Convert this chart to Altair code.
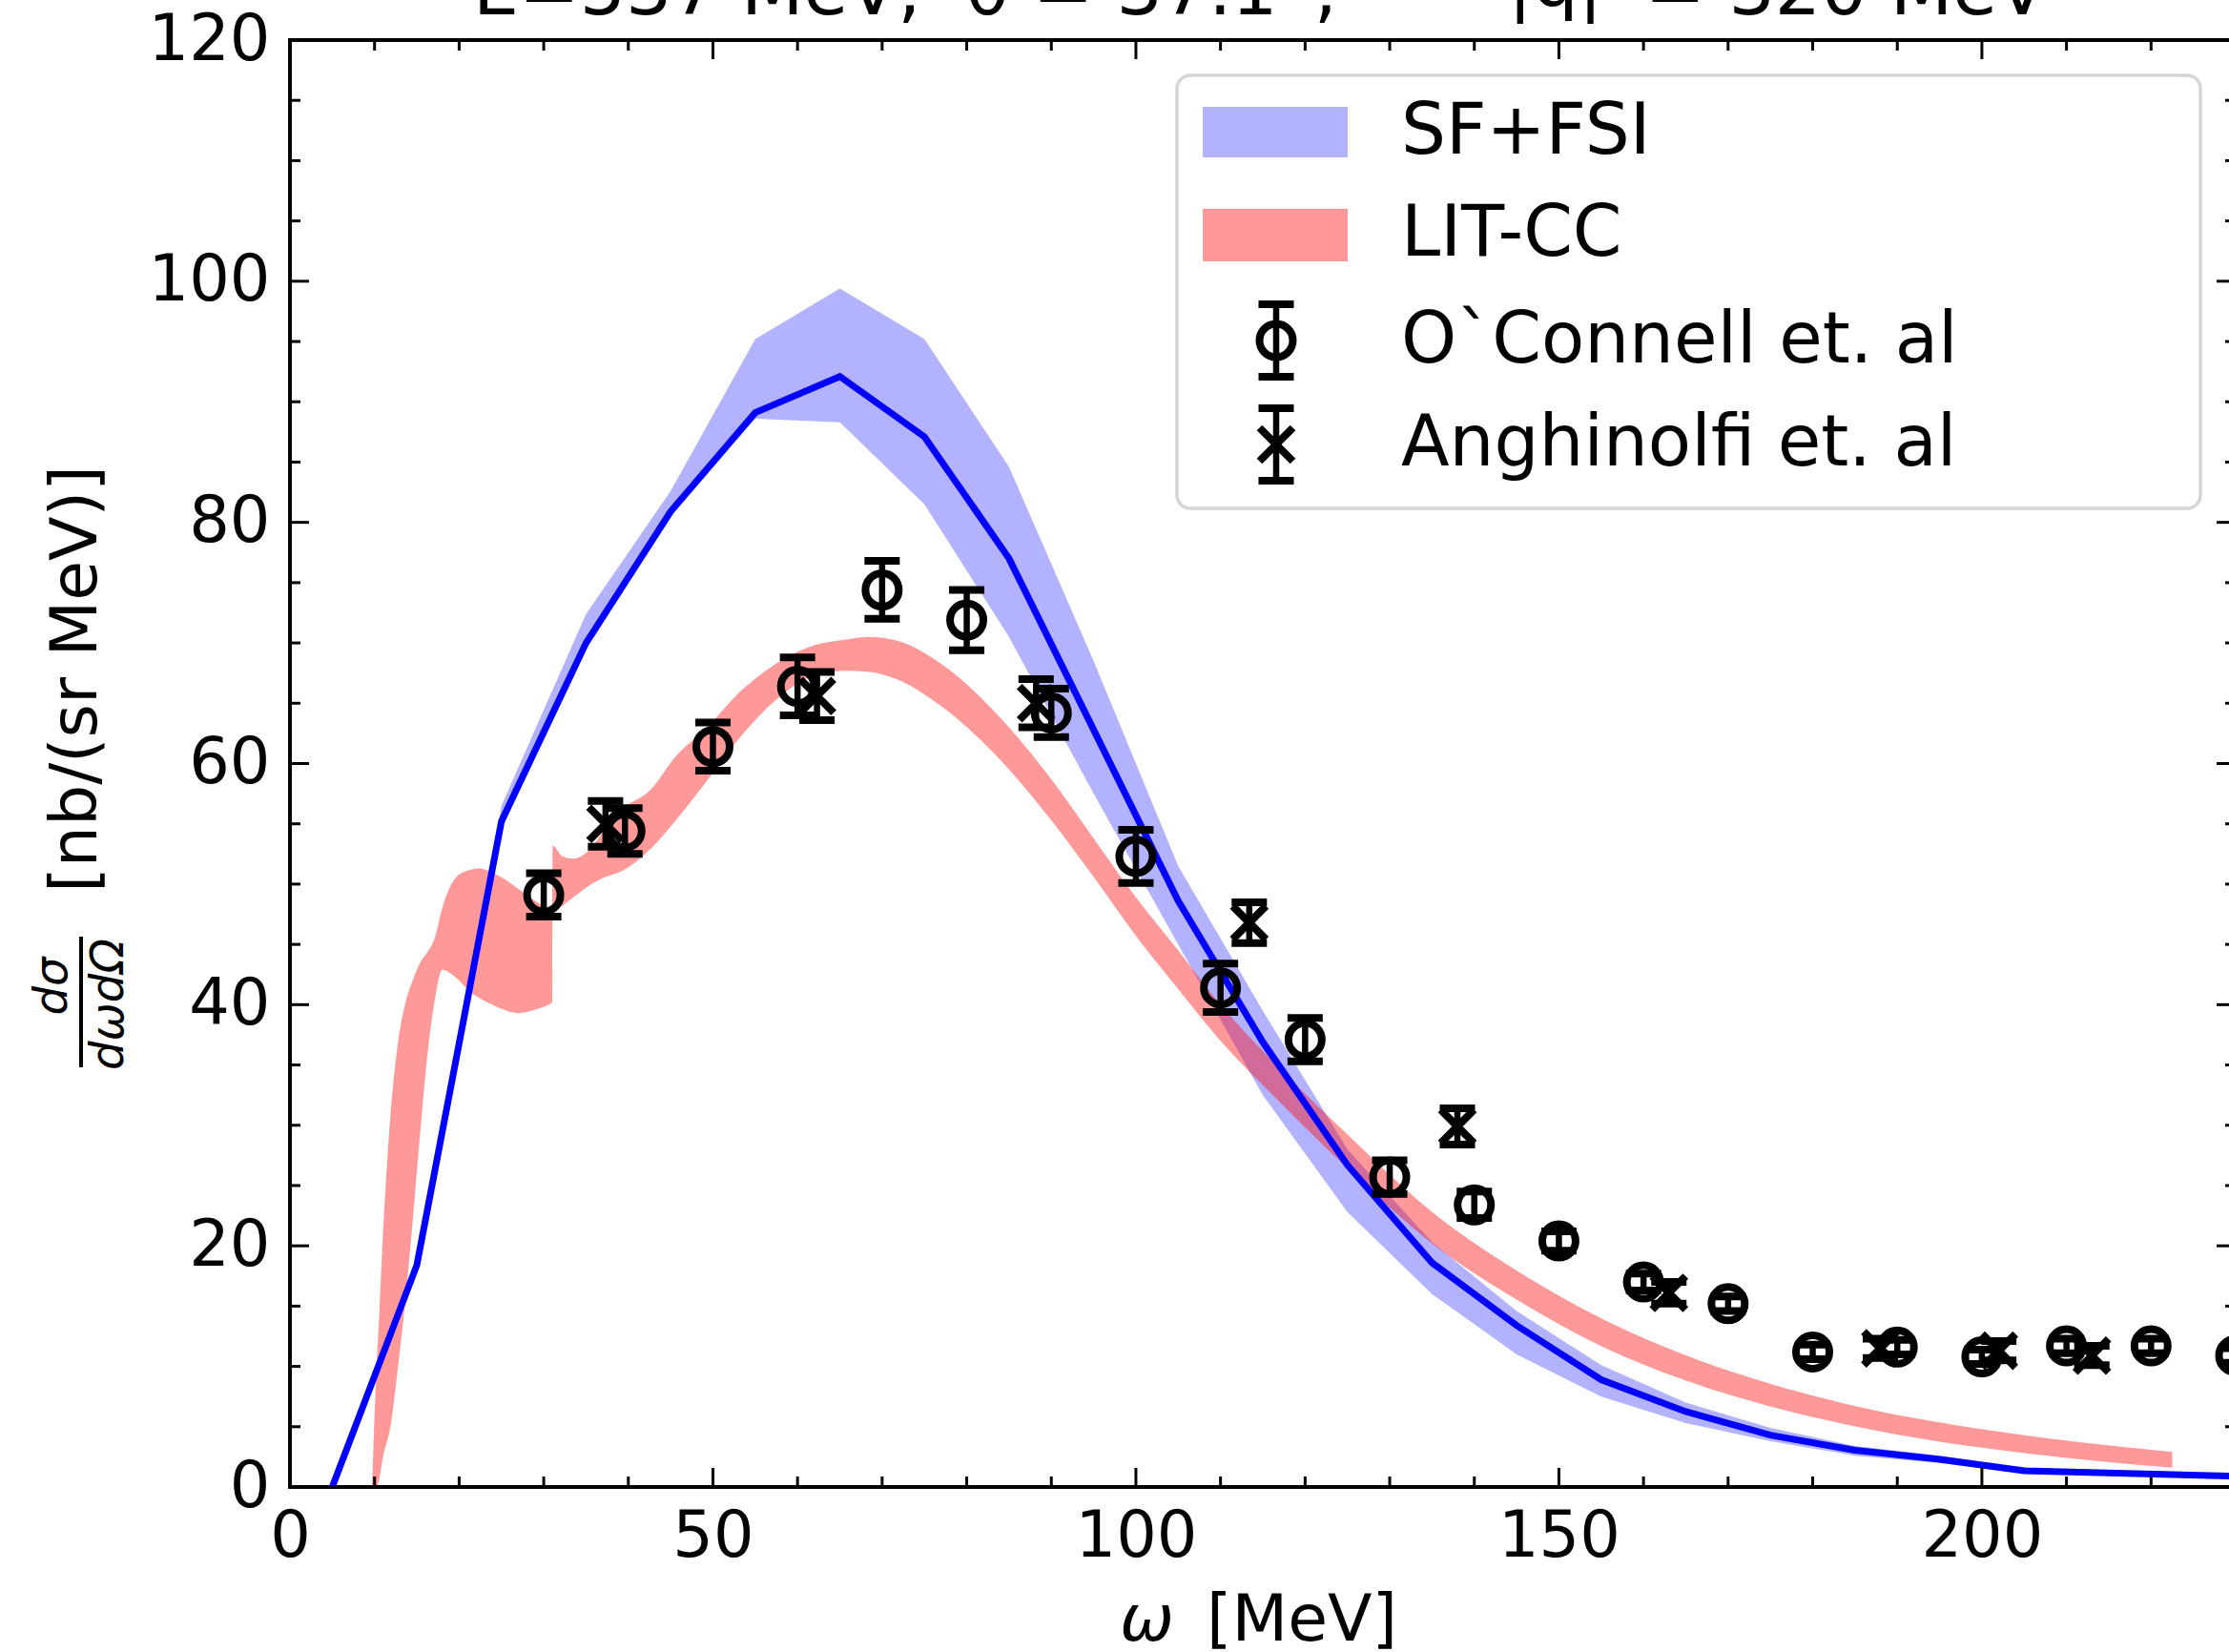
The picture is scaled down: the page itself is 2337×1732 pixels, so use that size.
import altair as alt
import pandas as pd

# ---------------- data ----------------
# SF+FSI : central line and band (omega in MeV)
sf_omega = [5, 15, 25, 35, 45, 55, 65, 75, 85, 95, 105, 115, 125, 135, 145, 155, 165, 175, 185, 195, 205, 230]
sf_line = [0, 18.4, 55.2, 70.0, 80.9, 89.1, 92.1, 87.1, 77.0, 62.8, 48.6, 36.9, 26.7, 18.6, 13.4, 8.9, 6.25, 4.3, 3.05, 2.3, 1.35, 0.9]
sf_lower = [0, 18.4, 55.0, 69.5, 80.5, 88.6, 88.3, 81.5, 70.5, 57.5, 45.0, 32.5, 22.8, 16.0, 11.0, 7.5, 5.3, 3.8, 2.6, 2.0, 1.1, 0.8]
sf_upper = [0, 18.4, 56.5, 72.4, 82.6, 95.2, 99.4, 95.2, 84.6, 68.5, 51.5, 39.5, 28.0, 20.3, 14.6, 10.1, 7.0, 4.9, 3.4, 2.6, 1.6, 1.0]

# LIT-CC band
lit_omega = [9.7, 10.2, 10.5, 11.0, 11.9, 12.7, 13.6, 14.5, 15.4, 16.2, 17.1, 18.0, 19.7, 21.4, 22.3, 24.9,
             27.0, 29.0, 31.0, 31.05, 32.2, 33.5, 35.2, 37.0, 39.3, 42.6, 45.5, 49.0, 53.6, 58.7, 62.0, 65.9,
             68.5, 71.7, 76.9, 83.3, 90.0, 95.0, 100.0, 105.0, 110.0, 116.9, 124.6, 135.2, 145.8, 155.4,
             164.9, 174.6, 184.2, 193.8, 203.4, 213.0, 222.5]
lit_lower = [0, 0, 0.5, 2.5, 5.1, 9.5, 15.2, 22.0, 29.4, 35.5, 40.3, 42.9, 42.2, 41.0, 40.6, 39.7,
             39.3, 39.6, 40.2, 47.7, 48.2, 48.9, 49.8, 50.5, 51.1, 52.9, 55.2, 58.3, 62.5, 66.0, 67.3, 67.7,
             67.6, 67.0, 64.8, 60.8, 55.3, 50.6, 45.7, 41.3, 37.0, 32.0, 26.7, 20.1, 15.2, 11.55,
             8.85, 6.75, 5.15, 3.9, 2.95, 2.2, 1.6]
lit_upper = [0, 9.2, 13.5, 21.0, 31.0, 36.5, 40.0, 42.0, 43.5, 44.3, 45.5, 48.0, 50.6, 51.2, 51.3, 50.6,
             49.6, 48.6, 47.9, 53.2, 52.3, 52.1, 52.7, 54.3, 56.2, 57.8, 60.5, 62.8, 66.2, 68.8, 69.8, 70.3,
             70.5, 70.2, 68.3, 64.3, 58.7, 53.8, 48.9, 44.5, 40.0, 34.8, 29.5, 22.7, 17.6, 13.85,
             10.95, 8.65, 6.85, 5.5, 4.45, 3.6, 2.9]

# O`Connell et al. data
oc_omega = [30, 39.6, 50, 60, 70, 80, 90, 100, 110, 120, 130, 140, 150, 160, 170, 180, 190, 200, 210, 220, 230]
oc_val = [49.1, 54.4, 61.4, 66.4, 74.4, 71.9, 64.2, 52.3, 41.4, 37.1, 25.7, 23.4, 20.4, 17.0, 15.2, 11.2, 11.6, 10.8, 11.7, 11.7, 10.9]
oc_err = [1.8, 1.9, 2.0, 2.4, 2.4, 2.5, 2.0, 2.2, 2.0, 1.8, 1.4, 1.1, 0.8, 0.7, 0.6, 0.6, 0.6, 0.6, 0.6, 0.6, 0.6]

# Anghinolfi et al. data
an_omega = [37.3, 62.3, 88.2, 113.4, 138.0, 163.0, 188.0, 202.0, 213.0]
an_val = [55.0, 65.6, 65.0, 46.8, 29.9, 16.1, 11.5, 11.3, 10.9]
an_err = [1.9, 2.0, 2.0, 1.7, 1.5, 0.9, 0.8, 0.8, 0.8]

# axis ticks
x_major = [0, 50, 100, 150, 200]
x_minor = [10, 20, 30, 40, 60, 70, 80, 90, 110, 120, 130, 140, 160, 170, 180, 190, 210, 220]
y_major = [0, 20, 40, 60, 80, 100, 120]
y_minor = [5, 10, 15, 25, 30, 35, 45, 50, 55, 65, 70, 75, 85, 90, 95, 105, 110, 115]

title_parts = ["E=537 MeV,", "θ = 37.1°,", "|q|", "= 320 MeV"]
legend_labels = ["SF+FSI", "LIT-CC", "O`Connell et. al", "Anghinolfi et. al"]

# ---------------- styling ----------------
FONT = "DejaVu Sans"
FS_TICK = 67
FS_LAB = 68
FS_LEG = 74
FS_TITLE = 76
W, H = 2033, 1517
XR = 2040  # pixel extent of the x range (axes run slightly past the page edge)
BLUE = "#0000ff"
RED = "#ff0000"
X_PATH = "M -1 -1 L 1 1 M -1 1 L 1 -1"
MS = 1225      # marker size
MEW = 8        # marker stroke
ELW = 6.5      # errorbar line
CAP_L, CAP_T = 37, 8

xs = alt.Scale(domain=[0, 230], range=[0, XR], nice=False, zero=False)
ys = alt.Scale(domain=[0, 120], nice=False, zero=False)
X_AX = alt.Axis(values=x_major, title=None, ticks=False, tickSize=0, domain=False, grid=False,
                labelFont=FONT, labelFontSize=FS_TICK, labelColor="black", labelPadding=19,
                labelFlush=False, labelOverlap=False, format="d")
Y_AX = alt.Axis(values=y_major, title=None, ticks=False, tickSize=0, domain=False, grid=False,
                labelFont=FONT, labelFontSize=FS_TICK, labelColor="black", labelPadding=21,
                labelOverlap=False, format="d")


def X(f):
    return alt.X(f, type="quantitative", scale=xs, axis=X_AX)


def Y(f):
    return alt.Y(f, type="quantitative", scale=ys, axis=Y_AX)


sf_df = pd.DataFrame({"omega": sf_omega, "line": sf_line, "lo": sf_lower, "hi": sf_upper})
lit_df = pd.DataFrame({"omega": lit_omega, "lo": lit_lower, "hi": lit_upper})
oc_df = pd.DataFrame({"omega": oc_omega, "val": oc_val, "err": oc_err})
an_df = pd.DataFrame({"omega": an_omega, "val": an_val, "err": an_err})
for d in (oc_df, an_df):
    d["lo"] = d["val"] - d["err"]
    d["hi"] = d["val"] + d["err"]
err_df = pd.concat([oc_df, an_df], ignore_index=True)
one = pd.DataFrame({"k": [0]})

layers = []

# bands and line
layers.append(alt.Chart(sf_df).mark_area(color=BLUE, opacity=0.3).encode(x=X("omega"), y=Y("lo"), y2="hi"))
layers.append(alt.Chart(lit_df).mark_area(color=RED, opacity=0.4, interpolate="monotone")
              .encode(x=X("omega"), y=Y("lo"), y2="hi"))
layers.append(alt.Chart(sf_df).mark_line(color=BLUE, strokeWidth=7).encode(x=X("omega"), y=Y("line")))

# error bars
layers.append(alt.Chart(err_df).mark_rule(color="black", strokeWidth=ELW).encode(x=X("omega"), y=Y("lo"), y2="hi"))
for f in ("lo", "hi"):
    layers.append(alt.Chart(err_df).mark_tick(color="black", orient="horizontal", size=CAP_L, thickness=CAP_T,
                                              opacity=1).encode(x=X("omega"), y=Y(f)))
layers.append(alt.Chart(oc_df).mark_point(shape="circle", filled=False, size=MS, strokeWidth=MEW,
                                          color="black", opacity=1).encode(x=X("omega"), y=Y("val")))
layers.append(alt.Chart(an_df).mark_point(shape=X_PATH, filled=False, size=MS, strokeWidth=MEW,
                                          color="black", opacity=1).encode(x=X("omega"), y=Y("val")))

# inward ticks on all four sides
for vals, ln in ((x_major, 20), (x_minor, 11)):
    d = pd.DataFrame({"v": vals})
    layers.append(alt.Chart(d).mark_rule(color="black", strokeWidth=3).encode(
        x=X("v"), y=alt.value(H), y2=alt.value(H - ln)))
    layers.append(alt.Chart(d).mark_rule(color="black", strokeWidth=3).encode(
        x=X("v"), y=alt.value(0), y2=alt.value(ln)))
for vals, ln in ((y_major, 20), (y_minor, 11)):
    d = pd.DataFrame({"v": vals})
    layers.append(alt.Chart(d).mark_rule(color="black", strokeWidth=3).encode(
        y=Y("v"), x=alt.value(0), x2=alt.value(ln)))
    layers.append(alt.Chart(d).mark_rule(color="black", strokeWidth=3).encode(
        y=Y("v"), x=alt.value(XR - ln), x2=alt.value(XR)))

# spines
spine = dict(color="black", strokeWidth=4, strokeCap="square")
layers.append(alt.Chart(one).mark_rule(**spine).encode(x=alt.value(0), y=alt.value(0), y2=alt.value(H)))
layers.append(alt.Chart(one).mark_rule(**spine).encode(x=alt.value(XR), y=alt.value(0), y2=alt.value(H)))
layers.append(alt.Chart(one).mark_rule(**spine).encode(x=alt.value(0), x2=alt.value(XR), y=alt.value(0)))
layers.append(alt.Chart(one).mark_rule(**spine).encode(x=alt.value(0), x2=alt.value(XR), y=alt.value(H)))

# title (only its lower part is inside the page)
for txt, xx, al, yy in ((title_parts[0], 192, "left", -27), (title_parts[1], 708, "left", -27),
                        (title_parts[2], 1277, "left", -36), (title_parts[3], 1842, "right", -27)):
    layers.append(alt.Chart(one).mark_text(font=FONT, fontSize=FS_TITLE, align=al, baseline="alphabetic",
                                           color="black")
                  .encode(x=alt.value(xx), y=alt.value(yy), text=alt.value(txt)))

# x axis title
layers.append(alt.Chart(one).mark_text(font=FONT, fontSize=FS_LAB, fontStyle="italic", align="left",
                                       baseline="alphabetic", color="black")
              .encode(x=alt.value(870), y=alt.value(1678), text=alt.value("ω")))
layers.append(alt.Chart(one).mark_text(font=FONT, fontSize=FS_LAB, align="left", baseline="alphabetic", color="black")
              .encode(x=alt.value(961), y=alt.value(1678), text=alt.value("[MeV]")))

# y axis title
layers.append(alt.Chart(one).mark_text(font=FONT, fontSize=FS_LAB, angle=270, align="center",
                                       baseline="alphabetic", color="black")
              .encode(x=alt.value(-203), y=alt.value(670), text=alt.value("[nb/(sr MeV)]")))
layers.append(alt.Chart(one).mark_text(font=FONT, fontSize=48, fontStyle="italic", angle=270, align="center",
                                       baseline="alphabetic", color="black")
              .encode(x=alt.value(-234), y=alt.value(992), text=alt.value("dσ")))
layers.append(alt.Chart(one).mark_text(font=FONT, fontSize=48, fontStyle="italic", angle=270, align="center",
                                       baseline="alphabetic", color="black")
              .encode(x=alt.value(-175), y=alt.value(1011), text=alt.value("dωdΩ")))
layers.append(alt.Chart(one).mark_rule(color="black", strokeWidth=4)
              .encode(x=alt.value(-219), y=alt.value(940), y2=alt.value(1077)))

# legend
layers.append(alt.Chart(one).mark_rect(fill="white", fillOpacity=0.8, stroke="#d6d6d6", strokeWidth=3.5,
                                       cornerRadius=14)
              .encode(x=alt.value(930), x2=alt.value(2003), y=alt.value(37), y2=alt.value(491)))
layers.append(alt.Chart(one).mark_rect(color=BLUE, opacity=0.3)
              .encode(x=alt.value(957), x2=alt.value(1109), y=alt.value(70), y2=alt.value(123)))
layers.append(alt.Chart(one).mark_rect(color=RED, opacity=0.4)
              .encode(x=alt.value(957), x2=alt.value(1109), y=alt.value(177), y2=alt.value(232)))
for lab, yy in zip(legend_labels, (97, 204, 316, 424)):
    layers.append(alt.Chart(one).mark_text(font=FONT, fontSize=FS_LEG, align="left", baseline="middle",
                                           color="black")
                  .encode(x=alt.value(1165), y=alt.value(yy), text=alt.value(lab)))
for yy, shp in ((315, "circle"), (424, X_PATH)):
    layers.append(alt.Chart(one).mark_rule(color="black", strokeWidth=ELW)
                  .encode(x=alt.value(1034), y=alt.value(yy - 38), y2=alt.value(yy + 38)))
    for dy in (-38, 38):
        layers.append(alt.Chart(one).mark_rule(color="black", strokeWidth=CAP_T)
                      .encode(x=alt.value(1034 - CAP_L / 2), x2=alt.value(1034 + CAP_L / 2), y=alt.value(yy + dy)))
    layers.append(alt.Chart(one).mark_point(shape=shp, filled=False, size=MS, strokeWidth=MEW, color="black",
                                            opacity=1)
                  .encode(x=alt.value(1034), y=alt.value(yy)))

chart = alt.layer(*layers).properties(
    width=W, height=H,
    padding={"left": 304, "top": 42, "right": 0, "bottom": 173},
    autosize=alt.AutoSizeParams(type="none"),
).configure_view(stroke=None).configure(background="white")

chart.save("out.html", embed_options={"renderer": "svg", "actions": False})
